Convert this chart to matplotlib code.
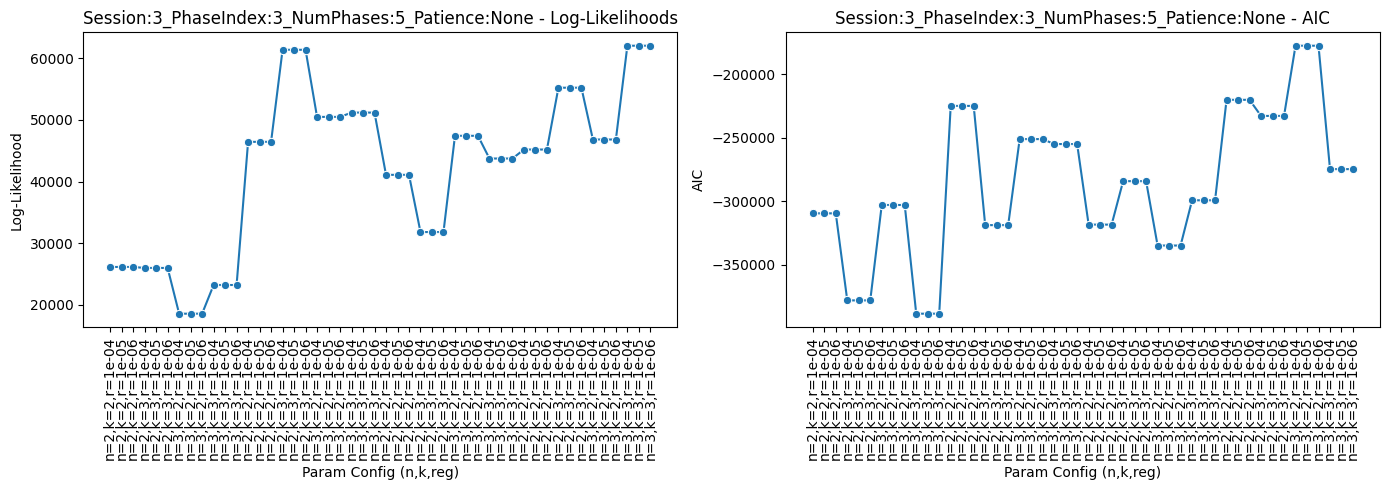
import matplotlib
matplotlib.use("Agg")
import matplotlib.pyplot as plt
import seaborn as sns
import numpy as np

# param configs: (n,k) blocks of three reg values, repeated four times
base_labels = [
    "n=2,k=2,r=1e-04", "n=2,k=2,r=1e-05", "n=2,k=2,r=1e-06",
    "n=2,k=3,r=1e-04", "n=2,k=3,r=1e-05", "n=2,k=3,r=1e-06",
    "n=3,k=2,r=1e-04", "n=3,k=2,r=1e-05", "n=3,k=2,r=1e-06",
    "n=3,k=3,r=1e-04", "n=3,k=3,r=1e-05", "n=3,k=3,r=1e-06",
]
config_labels = base_labels * 4

log_likelihood = [
    26130, 26130, 26130, 25970, 25970, 25970,
    18540, 18540, 18540, 23200, 23200, 23200,
    46450, 46450, 46450, 61400, 61400, 61400,
    50500, 50500, 50500, 51200, 51200, 51200,
    41090, 41090, 41090, 31800, 31800, 31800,
    47430, 47430, 47430, 43740, 43740, 43740,
    45200, 45200, 45200, 55240, 55240, 55240,
    46830, 46830, 46830, 62060, 62060, 62060,
]

aic = [
    -309600, -309600, -309600, -378300, -378300, -378300,
    -303000, -303000, -303000, -388800, -388800, -388800,
    -224800, -224800, -224800, -318900, -318900, -318900,
    -251000, -251000, -251000, -254900, -254900, -254900,
    -318500, -318500, -318500, -284200, -284200, -284200,
    -335000, -335000, -335000, -299300, -299300, -299300,
    -220000, -220000, -220000, -232700, -232700, -232700,
    -177300, -177300, -177300, -274700, -274700, -274700,
]

title_prefix = "Session:3_PhaseIndex:3_NumPhases:5_Patience:None"


def main():
    x = np.arange(len(config_labels))
    fig, axes = plt.subplots(1, 2, figsize=(14, 5), dpi=100)

    # log-likelihood
    sns.lineplot(x=x, y=log_likelihood, marker="o", ax=axes[0])
    axes[0].set_title(title_prefix + " - Log-Likelihoods")
    axes[0].set_ylabel("Log-Likelihood")

    # AIC
    sns.lineplot(x=x, y=aic, marker="o", ax=axes[1])
    axes[1].set_title(title_prefix + " - AIC")
    axes[1].set_ylabel("AIC")

    for ax in axes:
        ax.set_xticks(x)
        ax.set_xticklabels(config_labels, rotation=90)
        ax.set_xlabel("Param Config (n,k,reg)")

    plt.tight_layout()
    plt.savefig("out.png", dpi=100, bbox_inches="tight")


if __name__ == "__main__":
    main()
